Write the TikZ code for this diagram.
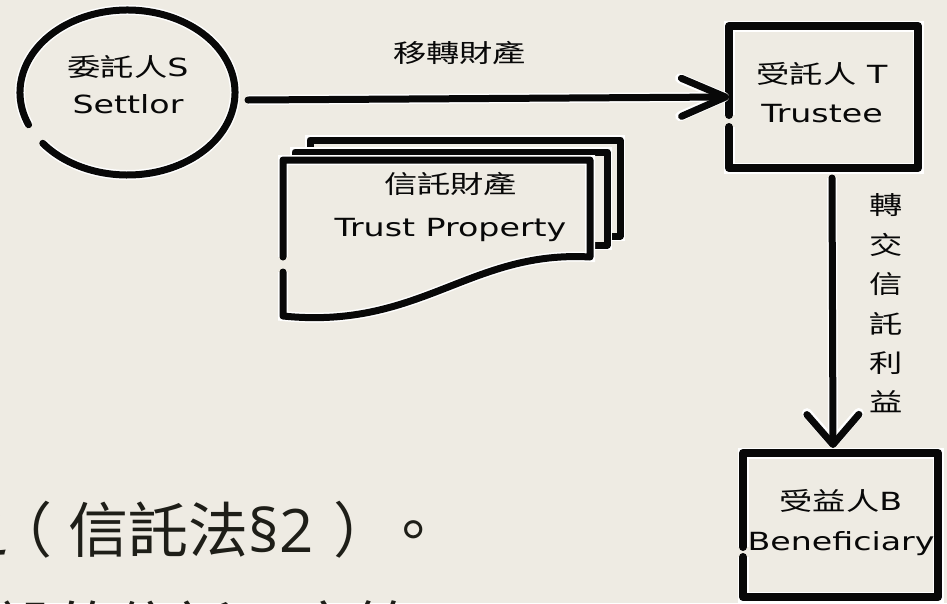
\documentclass[tikz,border=0pt]{standalone}
\usepackage{fontspec}
\usepackage{graphicx}
\setmainfont{DejaVu Sans}
\newfontfamily\cjk{Noto Sans CJK TC}
\newfontfamily\latinfont{Open Sans}
\usetikzlibrary{calc,arrows.meta,shapes.geometric}
\definecolor{bg}{RGB}{238,235,227}
\definecolor{ink}{RGB}{8,8,8}
\definecolor{slidetext}{RGB}{30,30,24}
\newcommand\hx[1]{\scalebox{1.33}[1]{#1}}
\begin{document}
\begin{tikzpicture}[x=1pt,y=-1pt,
  inkline/.style={draw=ink, line width=7pt, line cap=round, line join=round, preaction={draw=white, line width=10pt}},
  boxline/.style={draw=ink, line width=8pt, line cap=round, line join=round, preaction={draw=white, line width=11pt}},
  docline/.style={draw=ink, line width=7pt, line cap=round, line join=round, preaction={draw=white, line width=10pt}},
  holder/.style={inner sep=0pt, outer sep=0pt},
  lbl/.style={text=ink, align=center, inner sep=0pt, font=\fontsize{25}{39}\selectfont},
  slide/.style={text=slidetext, inner sep=0pt, anchor=base west, font=\cjk\fontsize{60}{88}\selectfont},
]
\useasboundingbox (0,0) rectangle (947,603);
\clip (0,0) rectangle (947,603);
\fill[bg] (0,0) rectangle (947,603);

% slide text behind the diagram
\node[slide] (line1) at (-52,552) {之\kern-16pt （\kern16pt 信託法{\latinfont §2}\kern20pt ）\kern-10pt 。};
\node[slide] (line2) at (-5,651) {設的信託，亦等};

% holder nodes
\node[holder, ellipse, minimum width=215pt, minimum height=165pt] (S) at (127.5,92.5) {};
\node[holder, minimum width=189pt, minimum height=142pt] (T) at (823.5,97) {};
\node[holder, minimum width=195pt, minimum height=144pt] (B) at (840.5,525) {};
\node[holder, minimum width=307pt, minimum height=157pt] (P) at (436.5,238.5) {};

% settlor circle with a gap
\draw[inkline] (S.center) ++(157:107.5 and 82.5)
  arc[start angle=157, end angle=502, x radius=107.5, y radius=82.5];

% trustee box (gap on the left side)
\draw[boxline] ($(T.west)+(0,18)$) -- (T.north west) -- (T.north east)
  -- (T.south east) -- (T.south west) -- ($(T.west)+(0,30)$);

% beneficiary box (gap on the left side)
\draw[boxline] ($(B.west)+(0,22)$) -- (B.north west) -- (B.north east)
  -- (B.south east) -- (B.south west) -- ($(B.west)+(0,32)$);

% trust property: stacked documents
\filldraw[docline, fill=bg] (310,236) -- (310,140) -- (620,140) -- (620,236) -- cycle;
\filldraw[docline, fill=bg] (295,245) -- (295,152) -- (607,152) -- (607,245) -- cycle;
\fill[bg] (283,160) -- (590,160) -- (590,257) .. controls (470,250) and (420,330) .. (283,316) -- cycle;
\draw[docline] (283,257) -- (283,160) -- (590,160) -- (590,257)
  .. controls (470,250) and (420,330) .. (283,316) -- (283,272);

% texts
\node[lbl, font=\fontsize{25}{37}\selectfont] (St) at (128,84.5) {\hx{{\cjk 委託人}S}\\\hx{Settlor}};
\node[lbl] (Tt) at (822,92.5) {\hx{{\cjk 受託人} T}\\\hx{Trustee}};
\node[lbl, font=\fontsize{25}{40}\selectfont] (Bt) at (841,523) {\hx{{\cjk 受益人}B}\\\hx{Beneficiary}};
\node[lbl, font=\fontsize{25}{43}\selectfont] (Pt) at (450.5,206.5) {\hx{\cjk 信託財產}\\\hx{Trust Property}};

% connectors
\draw[inkline, -{Straight Barb[length=44pt,width=38pt,round]}]
  ($(S.east)+(13,7.5)$) -- (T.west) node[pos=0.44, above=30pt, lbl] (m1) {\hx{\cjk 移轉財產}};
\draw[inkline, -{Straight Barb[length=30pt,width=52pt,round]}]
  ($(T.south)+(8.5,10)$) -- ($(B.north)+(-7.5,-5)$);
\node[lbl, font=\cjk\fontsize{25}{39.4}\selectfont] (m2) at (886,303.5)
  {\hx{轉}\\\hx{交}\\\hx{信}\\\hx{託}\\\hx{利}\\\hx{益}};
\end{tikzpicture}
\end{document}
